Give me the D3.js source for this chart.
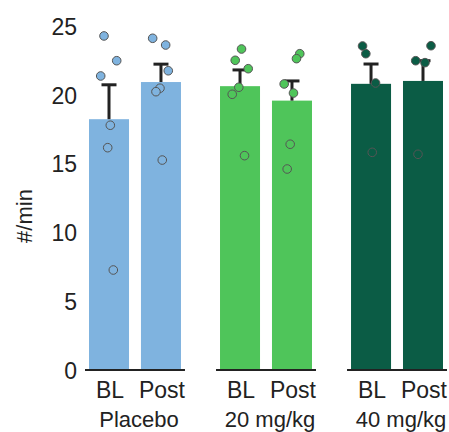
<!DOCTYPE html>
<html>
<head>
<meta charset="utf-8">
<script src="https://cdn.jsdelivr.net/npm/d3@7"></script>
<style>
  body { margin: 0; background: #fff; }
  text { font-family: "Liberation Sans", Arial, sans-serif; fill: #222; }
</style>
</head>
<body>
<div id="chart"></div>
<script>
// groups and conditions
var groups = ['Placebo', '20 mg/kg', '40 mg/kg'];
var conditions = ['BL', 'Post'];
var colors = ['#7fb3df', '#4fc55a', '#0b5c45'];

// bar heights (mean) and SEM, per group: [BL, Post]
var means = [[18.3, 21.0], [20.7, 19.65], [20.87, 21.08]];
var sem = [[2.5, 1.3], [1.18, 1.43], [1.44, 1.47]];

// individual animals
var pts = [
  [[24.35, 22.55, 21.44, 17.86, 16.23, 7.34], [24.18, 23.69, 21.82, 20.55, 20.30, 15.33]],
  [[23.40, 22.58, 21.97, 20.62, 20.11, 15.65], [23.06, 22.70, 20.86, 20.20, 16.48, 14.68]],
  [[23.62, 23.06, 20.93, 15.89], [23.64, 22.55, 22.41, 15.75]]
];
// horizontal scatter of dots (px from bar centre)
var jitter = [
  [[-5, 7.7, -8.3, 1.3, -1.3, 4.3], [-8.3, 4.7, 7.3, -1, -5, 1.3]],
  [[1.5, -4.8, 8.2, -1.2, -7.8, 4.5], [7.8, 4.5, -7.8, 1.5, -1.8, -4.8]],
  [[-8.5, -5.2, 4.5, 1.2], [8, -7.3, 2, -5]]
];

var yTicks = [0, 5, 10, 15, 20, 25];

const width = 449
const height = 432

var svg = d3.select('#chart').append('svg')
  .attr('width', width)
  .attr('height', height);

var y = d3.scaleLinear().domain([0, 25]).range([371, 27]);

var xg = d3.scaleBand().domain(groups).range([89, 443]).paddingInner(0.298).paddingOuter(0);
var xc = d3.scaleBand().domain(conditions).range([0, xg.bandwidth()]).paddingInner(0.23);

// y axis: labels only, no line
var yAxis = svg.append('g')
  .attr('transform', 'translate(79,0)')
  .call(d3.axisLeft(y).tickValues(yTicks).tickSize(0).tickPadding(2));
yAxis.select('.domain').remove();
yAxis.selectAll('text')
  .style('font-size', '23px')
  .attr('fill', '#222')
  .style('font-family', '"Liberation Sans", Arial, sans-serif');

svg.append('text')
  .attr('transform', 'translate(32,216) rotate(-90)')
  .attr('text-anchor', 'middle')
  .style('font-size', '22px')
  .text('#/min');

// one g per group
var g = svg.selectAll('g.group').data(groups).enter().append('g')
  .attr('class', 'group')
  .attr('transform', function(d){ return 'translate(' + xg(d) + ',0)'; });

g.each(function(grp, gi){
  var sel = d3.select(this);
  var col = colors[gi];

  conditions.forEach(function(c, ci){
    var cx = xc(c) + xc.bandwidth()/2;
    sel.append('rect')
      .attr('x', xc(c))
      .attr('width', xc.bandwidth())
      .attr('y', y(means[gi][ci]))
      .attr('height', y(0) - y(means[gi][ci]))
      .attr('fill', col);

    // error bar (upper only)
    var top = y(means[gi][ci] + sem[gi][ci]);
    sel.append('line')
      .attr('x1', cx).attr('x2', cx)
      .attr('y1', y(means[gi][ci])).attr('y2', top)
      .attr('stroke', '#222').attr('stroke-width', 3);
    sel.append('line')
      .attr('x1', cx - 7.5).attr('x2', cx + 7.5)
      .attr('y1', top).attr('y2', top)
      .attr('stroke', '#222').attr('stroke-width', 3);

    sel.selectAll('circle.c' + ci).data(pts[gi][ci]).enter().append('circle')
      .attr('class', 'c' + ci)
      .attr('cx', function(d, i){ return cx + jitter[gi][ci][i]; })
      .attr('cy', function(d){ return y(d); })
      .attr('r', 4.3)
      .attr('fill', col)
      .attr('stroke', '#555')
      .attr('stroke-width', 1);

    sel.append('text')
      .attr('x', cx + 1)
      .attr('y', 398)
      .attr('text-anchor', 'middle')
      .style('font-size', '23px')
      .text(c);
  });

  // baseline under each group
  sel.append('line')
    .attr('x1', -4).attr('x2', xg.bandwidth() + 4)
    .attr('y1', y(0) - 1).attr('y2', y(0) - 1)
    .attr('stroke', '#222').attr('stroke-width', 2);

  sel.append('text')
    .attr('x', xg.bandwidth()/2 + 4)
    .attr('y', 427)
    .attr('text-anchor', 'middle')
    .style('font-size', '22px')
    .text(grp);
});
</script>
</body>
</html>
